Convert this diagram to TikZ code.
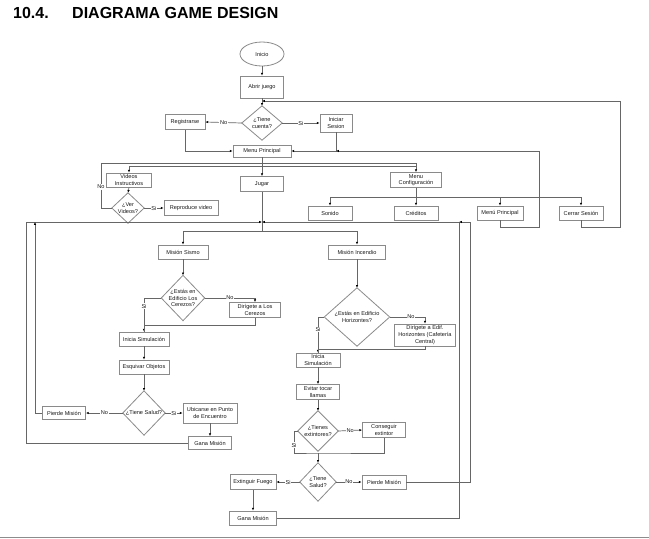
\documentclass[tikz,border=0pt]{standalone}
\usepackage{fontspec}
\setmainfont{Liberation Sans}
\usetikzlibrary{shapes.geometric,arrows.meta}
\definecolor{lnc}{HTML}{666666}
\definecolor{bxc}{HTML}{8A8A8A}
\newcommand\mydiamond[1]{\draw[draw=bxc,line width=0.8pt] (#1.north) -- (#1.east) -- (#1.south) -- (#1.west) -- cycle;}
\begin{document}
\begin{tikzpicture}[x=1pt,y=-1pt,
  txt/.style={font=\fontsize{5.6}{6.6}\selectfont, text=black!90},
  box/.style={txt, draw=bxc, line width=0.8pt, fill=white, inner sep=0.5pt, align=center},
  dec/.style={txt, inner sep=0pt, align=center},
  sz/.style 2 args={minimum width=#1pt, minimum height=#2pt},
  conn/.style={draw=lnc, line width=0.7pt},
  arr/.style={conn, -{Latex[length=2.8pt,width=2.4pt,color=black]}},
  lab/.style={txt, fill=white, inner sep=0.6pt}]
\fill[white] (0,0) rectangle (649,539);
\useasboundingbox (0,0) rectangle (649,539);
% title
\node[anchor=base west, inner sep=0pt, font=\fontsize{16}{18}\selectfont\bfseries] (tnum) at (13,18) {10.4.};
\node[anchor=base west, inner sep=0pt, font=\fontsize{16}{18}\selectfont\bfseries] (ttl) at (72,18) {DIAGRAMA GAME DESIGN};
\draw[draw=black!45, line width=1.6pt] (0,537.5) -- (649,537.5);

% top
\node[box, ellipse, sz={44}{24}] (inicio) at (262,54) {Inicio};
\node[box, sz={43}{22}] (abrir) at (262,87) {Abrir juego};
\node[dec, sz={40}{34}] (tcuenta) at (262,123) {¿Tiene\\cuenta?};
\node[box, sz={40}{15}] (registrarse) at (185,122) {Registrarse};
\node[box, sz={32}{18}] (iniciar) at (336,123) {Iniciar\\Sesion};
\node[box, sz={58}{12}] (menup) at (262,151) {Menu Principal};
\node[box, sz={45}{14}] (vidinst) at (129,180) {Videos\\Instructivos};
\node[box, sz={43}{15}] (jugar) at (262,184) {Jugar};
\node[box, sz={51}{15}] (menuconf) at (416,180) {Menu\\Configuración};
\node[dec, sz={32}{30}] (vervid) at (128,208) {¿Ver\\Videos?};
\node[box, sz={54}{15}] (reprod) at (191,208) {Reproduce video};
\node[box, sz={44}{14}] (sonido) at (330,213) {Sonido};
\node[box, sz={44}{14}] (creditos) at (416,213) {Créditos};
\node[box, sz={46}{14}] (menup2) at (500,213) {Menú Principal};
\node[box, sz={44}{14}] (cerrar) at (581,213) {Cerrar Sesión};

% sismo
\node[box, sz={50}{14}] (msismo) at (183,252) {Misión Sismo};
\node[dec, sz={43}{45}] (cerezosq) at (183,298) {¿Estás en\\Edificio Los\\Cerezos?};
\node[box, sz={51}{15}] (dircerezos) at (255,310) {Dirígete a Los\\Cerezos};
\node[box, sz={50}{14}] (inisim1) at (144,339) {Inicia Simulación};
\node[box, sz={50}{14}] (esquivar) at (144,367) {Esquivar Objetos};
\node[dec, sz={42}{44}] (salud1) at (144,413) {¿Tiene Salud?};
\node[box, sz={43}{13}] (pierde1) at (64,413) {Pierde Misión};
\node[box, sz={54}{20}] (ubicarse) at (210,413) {Ubicarse en Punto\\de Encuentro};
\node[box, sz={43}{13}] (gana1) at (210,443) {Gana Misión};

% incendio
\node[box, sz={57}{14}] (mincendio) at (357,252) {Misión Incendio};
\node[dec, sz={65}{58}] (horizq) at (357,317) {¿Estás en Edificio\\Horizontes?};
\node[box, sz={61}{22}] (dirhoriz) at (425,335) {Dirígete a Edif.\\Horizontes (Cafetería\\Central)};
\node[box, sz={44}{14}] (inisim2) at (318,360) {Inicia\\Simulación};
\node[box, sz={43}{15}] (evitar) at (318,392) {Evitar tocar\\llamas};
\node[dec, sz={40}{40}] (extq) at (318,431) {¿Tienes\\extintores?};
\node[box, sz={43}{15}] (conseguir) at (384,430) {Conseguir\\extintor};
\node[dec, sz={36}{38}] (salud2) at (318,482) {¿Tiene\\Salud?};
\node[box, sz={46}{15}] (extinguir) at (253,482) {Extinguir Fuego};
\node[box, sz={44}{14}] (pierde2) at (384,482) {Pierde Misión};
\node[box, sz={47}{14}] (gana2) at (253,518) {Gana Misión};

\mydiamond{tcuenta}
\mydiamond{vervid}
\mydiamond{cerezosq}
\mydiamond{salud1}
\mydiamond{horizq}
\mydiamond{extq}
\mydiamond{salud2}

% junctions
\coordinate (j1) at (262,101);
\coordinate (jmp) at (336,151);
\coordinate (m1) at (262,163);
\coordinate (m2) at (416,166);
\coordinate (c1) at (416,197);
\coordinate (jj) at (262,222);
\coordinate (js) at (262,231);
\coordinate (jl) at (35,222);
\coordinate (je) at (318,453);
\coordinate (jr) at (459,222);

% top connectors
\draw[arr] (inicio.south) -- (abrir.north);
\draw[arr] (abrir.south) -- (tcuenta.north);
\draw[arr] (tcuenta.west) -- node[lab]{No} (registrarse.east);
\draw[arr] (tcuenta.east) -- node[lab]{Si} (iniciar.west);
\draw[arr] (registrarse.south) |- (menup.west);
\draw[arr] (iniciar.south) |- (menup.east);
\draw[arr] (menup2.south) -- ++(0,7) -| (539,151) -- (jmp);
\draw[arr] (cerrar.south) -- ++(0,7) -| (620,101) -- (j1);
\draw[conn] (menup.south) -- (m1);
\draw[arr] (m1) -| (menuconf.north);
\draw[arr] (menup.south) -- (jugar.north);
\draw[arr] (m2) -| (vidinst.north);
\draw[arr] (vidinst.south) -- (vervid.north);
\draw[arr] (vervid.east) -- node[lab]{Si} (reprod.west);
\draw[conn] (vervid.west) -| (101,163) -- (m1);
\node[lab] (lno1) at (101,187) {No};
\draw[conn] (menuconf.south) -- (c1);
\draw[arr] (c1) -| (sonido.north);
\draw[arr] (c1) -- (creditos.north);
\draw[arr] (c1) -| (menup2.north);
\draw[arr] (c1) -| (cerrar.north);
\draw[conn] (jugar.south) -- (js);
\draw[arr] (js) -| (msismo.north);
\draw[arr] (js) -| (mincendio.north);

% sismo connectors
\draw[arr] (msismo.south) -- (cerezosq.north);
\draw[arr] (cerezosq.east) -| node[lab,pos=0.25]{No} (dircerezos.north);
\draw[arr] (cerezosq.west) -| node[lab,pos=0.62]{Si} (inisim1.north);
\draw[conn] (dircerezos.south) -- ++(0,7) -| (inisim1.north);
\draw[arr] (inisim1.south) -- (esquivar.north);
\draw[arr] (esquivar.south) -- (salud1.north);
\draw[arr] (salud1.west) -- node[lab]{No} (pierde1.east);
\draw[arr] (salud1.east) -- node[lab]{Si} (ubicarse.west);
\draw[arr] (ubicarse.south) -- (gana1.north);
\draw[arr] (gana1.west) -| (26,222) -- (jj);
\draw[arr] (pierde1.west) -| (jl);

% incendio connectors
\draw[arr] (mincendio.south) -- (horizq.north);
\draw[arr] (horizq.east) -| node[lab,pos=0.3]{No} (dirhoriz.north);
\draw[arr] (horizq.west) -| node[lab,pos=0.68]{Si} (inisim2.north);
\draw[conn] (dirhoriz.south) -- ++(0,3) -| (inisim2.north);
\draw[arr] (inisim2.south) -- (evitar.north);
\draw[arr] (evitar.south) -- (extq.north);
\draw[arr] (extq.east) -- node[lab]{No} (conseguir.west);
\draw[conn] (extq.west) -- ++(-3,0) |- (je) -| (conseguir.south);
\node[lab] (lsi2) at (294,445) {Si};
\draw[arr] (je) -- (salud2.north);
\draw[arr] (salud2.west) -- node[lab]{Si} (extinguir.east);
\draw[arr] (salud2.east) -- node[lab]{No} (pierde2.west);
\draw[arr] (extinguir.south) -- (gana2.north);
\draw[arr] (gana2.east) -| (jr) -- (jj);
\draw[arr] (pierde2.east) -| (470,222) -- (jr);
\end{tikzpicture}
\end{document}
